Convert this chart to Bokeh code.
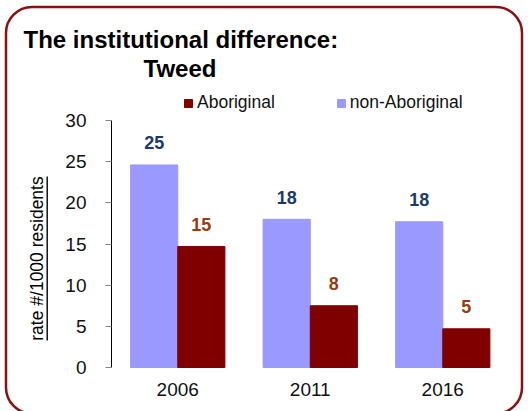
from bokeh.plotting import figure
from bokeh.models import (ColumnDataSource, Range1d, Label, LabelSet, LinearAxis,
                          BoxAnnotation, Legend, LegendItem, FixedTicker)
from bokeh.core.properties import value
from bokeh.transform import dodge
from bokeh.embed import file_html
from bokeh.resources import INLINE
import math

# ---- data ----
years = ["2006", "2011", "2016"]
non_aboriginal = [24.6, 18.0, 17.7]
aboriginal = [14.7, 7.5, 4.7]
non_aboriginal_labels = ["25", "18", "18"]
aboriginal_labels = ["15", "8", "5"]
y_ticks = [0, 5, 10, 15, 20, 25, 30]

# ---- styling / layout ----
FONT = "Liberation Sans"
LAVENDER = "#9999FF"
DARKRED = "#800000"
NAVY = "#1B3A6B"
BROWN = "#943D12"

W, H = 528, 411
AXIS_X = 111.0      # pixel of the value axis
ZERO_Y = 367.0      # pixel of y = 0
TOP_Y = 120.0       # pixel of y = 30
UNIT = 132.5        # pixels per category
YMAX = 30.0


def px2x(X):
    return (X - AXIS_X) / UNIT


def px2y(Y):
    return (ZERO_Y - Y) * YMAX / (ZERO_Y - TOP_Y)


cat_pos = [i + 0.5 for i in range(len(years))]
src = ColumnDataSource(dict(xc=cat_pos, year=years, nonab=non_aboriginal, ab=aboriginal,
                            nonab_lbl=non_aboriginal_labels, ab_lbl=aboriginal_labels))

p = figure(width=W, height=H, x_range=Range1d(px2x(0), px2x(W)),
           y_range=Range1d(px2y(H), px2y(0)), output_backend="svg", toolbar_location=None,
           x_axis_location=None, y_axis_location=None,
           min_border=0, min_border_left=0, min_border_right=0, min_border_top=0,
           min_border_bottom=0, background_fill_color="white",
           border_fill_color="white", outline_line_color=None)
p.grid.visible = False

BW = 0.356
OFF = BW / 2
r_non = p.vbar(x=dodge("xc", -OFF), top="nonab", width=BW,
               source=src, fill_color=LAVENDER, line_color=LAVENDER)
r_ab = p.vbar(x=dodge("xc", OFF), top="ab", width=BW,
              source=src, fill_color=DARKRED, line_color=DARKRED)

p.add_layout(LabelSet(x=dodge("xc", -OFF), y="nonab", text="nonab_lbl",
                      source=src, y_offset=22, text_align="center", text_baseline="middle",
                      text_font=value(FONT), text_font_style="bold", text_font_size="18px",
                      text_color=NAVY))
p.add_layout(LabelSet(x=dodge("xc", OFF), y="ab", text="ab_lbl",
                      source=src, y_offset=22, text_align="center", text_baseline="middle",
                      text_font=value(FONT), text_font_style="bold", text_font_size="18px",
                      text_color=BROWN))

# axes
yaxis = LinearAxis(fixed_location=0, ticker=FixedTicker(ticks=y_ticks), bounds=(0, YMAX))
yaxis.minor_tick_line_color = None
yaxis.major_tick_in = 0
yaxis.major_tick_out = 6
yaxis.major_tick_line_color = "#888888"
yaxis.axis_line_color = "black"
yaxis.major_label_standoff = 19
yaxis.major_label_text_font = FONT
yaxis.major_label_text_font_size = "19px"
yaxis.major_label_text_color = "#111111"
p.add_layout(yaxis, "left")

xaxis = LinearAxis(fixed_location=0, ticker=FixedTicker(ticks=cat_pos),
                   major_label_overrides={c: y for c, y in zip(cat_pos, years)})
xaxis.axis_line_color = None
xaxis.major_tick_line_color = None
xaxis.minor_tick_line_color = None
xaxis.major_label_standoff = 9
xaxis.major_label_text_font = FONT
xaxis.major_label_text_font_size = "19px"
xaxis.major_label_text_color = "#111111"
p.add_layout(xaxis, "below")

# legend
legend = Legend(items=[LegendItem(label="Aboriginal", renderers=[r_ab]),
                       LegendItem(label="non-Aboriginal", renderers=[r_non])],
                orientation="horizontal", location=(183, H - 113),
                glyph_width=10, glyph_height=10, label_standoff=4, spacing=61,
                padding=0, margin=0, border_line_color=None, background_fill_alpha=0,
                label_text_font=FONT, label_text_font_size="17.5px",
                label_text_color="#111111")
p.add_layout(legend, "center")

# titles
p.add_layout(Label(x=px2x(23), y=px2y(39), text="The institutional difference:",
                   text_font=FONT, text_font_style="bold", text_font_size="24px",
                   text_color="black", text_align="left", text_baseline="alphabetic"))
p.add_layout(Label(x=px2x(143), y=px2y(67.5), text="Tweed",
                   text_font=FONT, text_font_style="bold", text_font_size="24px",
                   text_color="black", text_align="left", text_baseline="alphabetic"))

# y axis title (underlined)
p.add_layout(Label(x=px2x(36.5), y=px2y(258), text="rate #/1000 residents", angle=math.pi / 2,
                   text_font=FONT, text_font_size="17.5px", text_color="black",
                   text_align="center", text_baseline="alphabetic"))
p.add_layout(BoxAnnotation(left=px2x(46), right=px2x(47.4), top=px2y(176), bottom=px2y(340),
                           fill_color="black", fill_alpha=1, line_color=None))

# rounded outer border
p.add_layout(BoxAnnotation(left=px2x(5.5), right=px2x(521.5), top=px2y(6.5), bottom=px2y(413),
                           fill_alpha=0, line_color="#8B1010", line_alpha=1, line_width=2.5,
                           border_radius=26))

open("out.html", "w").write(file_html(p, INLINE))
